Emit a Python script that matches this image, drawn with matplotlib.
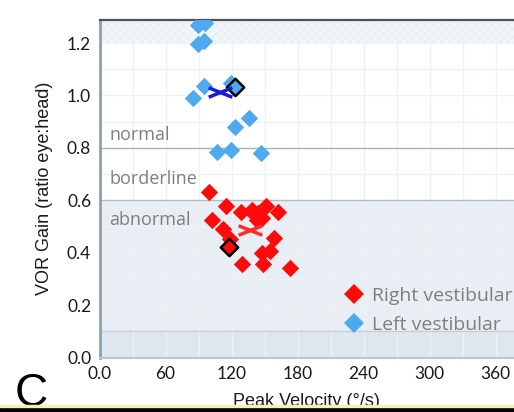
import matplotlib
matplotlib.use("Agg")
import matplotlib.pyplot as plt
from matplotlib.path import Path
from matplotlib.lines import Line2D

# ---- data ----
left_x = [89.8, 95.9, 89.8, 95.0, 95.3, 84.7, 119.3, 123.2, 136.2, 107.1, 119.5, 146.8]
left_y = [1.269, 1.278, 1.195, 1.209, 1.036, 0.992, 1.047, 0.879, 0.913, 0.786, 0.792, 0.779]

right_x = [99.5, 114.7, 128.6, 137.7, 138.9, 144.4, 147.5, 142.9, 151.4, 162.5,
           102.0, 112.5, 118.6, 158.6, 147.5, 155.0, 129.3, 148.9, 173.2]
right_y = [0.631, 0.579, 0.556, 0.560, 0.563, 0.550, 0.531, 0.525, 0.579, 0.556,
           0.525, 0.489, 0.451, 0.455, 0.400, 0.408, 0.356, 0.356, 0.343]

left_highlight = (123.2, 1.031)
right_highlight = (118.0, 0.421)
left_median = (109.5, 1.013)
right_median = (136.8, 0.487)

zone_labels = ["normal", "borderline", "abnormal"]
zone_label_y = [0.85, 0.68, 0.525]
x_ticks = [0, 60, 120, 180, 240, 300, 360]
x_ticklabels = ["0.0", "60", "120", "180", "240", "300", "360"]
y_ticks = [0.0, 0.2, 0.4, 0.6, 0.8, 1.0, 1.2]
y_ticklabels = ["0.0", "0.2", "0.4", "0.6", "0.8", "1.0", "1.2"]
legend_labels = ["Right vestibular", "Left vestibular"]

RED = "#ff0a0a"
BLUE = "#4fa9f0"
GREY_TXT = "#7f7f7f"

fig = plt.figure(figsize=(5.14, 4.12), dpi=100)
ax = fig.add_axes([99.5 / 514, 54.5 / 412, 1 - 99.5 / 514, (392.5 - 54.5) / 412])
ax.set_xlim(0, 376.8)
ax.set_ylim(0, 1.29)

# background zones
ax.axhspan(0, 0.6, color="#e8eef3", zorder=0, lw=0)
ax.axhspan(0, 0.1, color="#dfe7ee", zorder=0.1, lw=0)
ax.axhspan(1.2, 1.29, facecolor="#f3f6f8", edgecolor="#ebf0f3", hatch="xxxx", lw=0, zorder=0)

# light grid
for gx in range(30, 380, 30):
    ax.axvline(gx, color="#eef2f6", lw=1, zorder=0.2)
for gy in [0.1 * i for i in range(1, 13)]:
    ax.axhline(gy, color="#eef2f6", lw=1, zorder=0.2)

ax.axhline(0.1, color="#c3cfd8", lw=1, zorder=0.5)
ax.axhline(0.6, color="#b4bcc2", lw=1, zorder=0.5)
ax.axhline(0.8, color="#b0b0b0", lw=1, zorder=0.5)

for lab, ly in zip(zone_labels, zone_label_y):
    ax.text(9, ly, lab, color=GREY_TXT, fontsize=13, family="Open Sans",
            va="center", ha="left", zorder=1)

ax.scatter(left_x, left_y, marker="D", s=78, color=BLUE, lw=0, zorder=3)
ax.scatter(right_x, right_y, marker="D", s=78, color=RED, lw=0, zorder=3)
ax.scatter([left_highlight[0]], [left_highlight[1]], marker="D", s=78,
           facecolor=BLUE, edgecolor="black", lw=1.8, zorder=4)
ax.scatter([right_highlight[0]], [right_highlight[1]], marker="D", s=78,
           facecolor=RED, edgecolor="black", lw=1.8, zorder=4)

cross = Path([(-1, -0.4), (1, 0.4), (-1, 0.4), (1, -0.4)],
             [Path.MOVETO, Path.LINETO, Path.MOVETO, Path.LINETO])
ax.plot([left_median[0]], [left_median[1]], marker=cross, ms=17, mew=2.5,
        color="#1a1ad8", ls="none", zorder=4)
ax.plot([right_median[0]], [right_median[1]], marker=cross, ms=17, mew=2.5,
        color="#ff2a2a", ls="none", zorder=4)

handles = [Line2D([], [], marker="D", color=RED, ls="none", ms=10.5, mew=0),
           Line2D([], [], marker="D", color=BLUE, ls="none", ms=10.5, mew=0)]
ax.legend(handles, legend_labels, loc="upper left", bbox_to_anchor=(0.596, 0.209),
          frameon=False, prop={"family": "Open Sans", "size": 14},
          labelcolor=GREY_TXT, handlelength=0.8, handletextpad=0.5,
          labelspacing=0.55, borderaxespad=0, borderpad=0)

# spines
ax.spines["right"].set_visible(False)
ax.spines["top"].set_color("#4d5355")
ax.spines["top"].set_linewidth(1.6)
ax.spines["left"].set_color("#8aa3ae")
ax.spines["left"].set_linewidth(2)
ax.spines["bottom"].set_color("#b7c6d0")
ax.spines["bottom"].set_linewidth(1.5)

ax.set_xticks(x_ticks)
ax.set_xticklabels(x_ticklabels)
ax.set_yticks(y_ticks)
ax.set_yticklabels(y_ticklabels)
ax.tick_params(length=0, pad=6, labelsize=12.5)
for t in ax.get_xticklabels() + ax.get_yticklabels():
    t.set_family("Lato")
    t.set_color("#1a1a1a")

ax.set_ylabel("VOR Gain (ratio eye:head)", family="Liberation Sans", fontsize=13,
              color="#1a1a1a", labelpad=10)
ax.set_xlabel("Peak Velocity (°/s)", family="Liberation Sans", fontsize=13,
              color="#1a1a1a", labelpad=8)

fig.text(15 / 514, 1 - 406 / 412, "C", fontsize=33, family="Liberation Sans",
         color="black", va="baseline", ha="left")

# black band at bottom
fig.patches.append(plt.Rectangle((0, 0), 1, 5.5 / 412, transform=fig.transFigure,
                                 color="black", zorder=10))
fig.patches.append(plt.Rectangle((0, 5.5 / 412), 1, 1.2 / 412, transform=fig.transFigure,
                                 color="#f5f0b0", zorder=10))

fig.savefig("out.png", dpi=100)
